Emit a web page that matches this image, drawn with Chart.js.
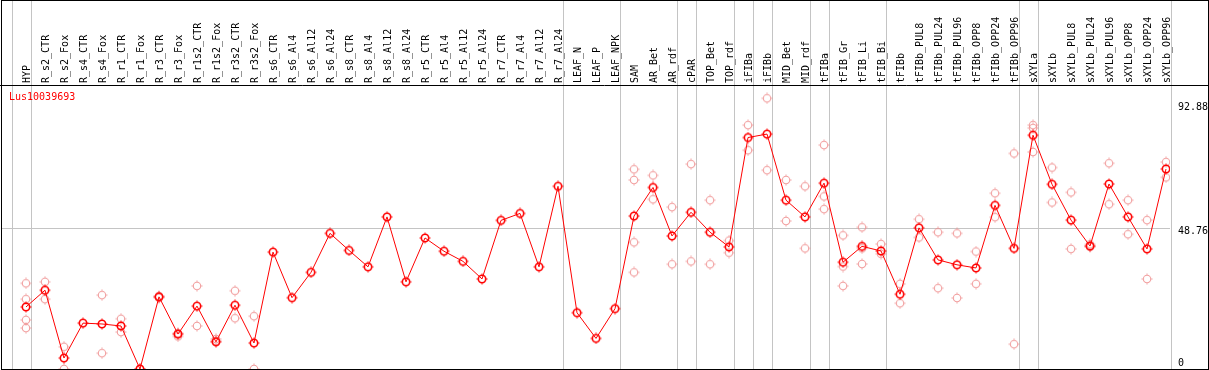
<!DOCTYPE html>
<html>
<head>
<meta charset="utf-8">
<script src="https://cdn.jsdelivr.net/npm/chart.js@4.4.1/dist/chart.umd.min.js"></script>
<style>
  html, body { margin: 0; padding: 0; background: #fff; }
  canvas { display: block; }
</style>
</head>
<body>
<canvas id="geneChart" width="1209" height="370"></canvas>
<script>
const geneName = 'Lus10039693';

const sampleLabels = [
  'HYP',
  'R_s2_CTR', 'R_s2_Fox', 'R_s4_CTR', 'R_s4_Fox', 'R_r1_CTR', 'R_r1_Fox', 'R_r3_CTR', 'R_r3_Fox',
  'R_r1s2_CTR', 'R_r1s2_Fox', 'R_r3s2_CTR', 'R_r3s2_Fox',
  'R_s6_CTR', 'R_s6_Al4', 'R_s6_Al12', 'R_s6_Al24', 'R_s8_CTR', 'R_s8_Al4', 'R_s8_Al12', 'R_s8_Al24',
  'R_r5_CTR', 'R_r5_Al4', 'R_r5_Al12', 'R_r5_Al24', 'R_r7_CTR', 'R_r7_Al4', 'R_r7_Al12', 'R_r7_Al24',
  'LEAF_N', 'LEAF_P', 'LEAF_NPK',
  'SAM', 'AR_Bet', 'AR_rdf', 'cPAR', 'TOP_Bet', 'TOP_rdf', 'iFIBa', 'iFIBb', 'MID_Bet', 'MID_rdf',
  'tFIBa', 'tFIB_Gr', 'tFIB_Li', 'tFIB_Bi',
  'tFIBb', 'tFIBb_PUL8', 'tFIBb_PUL24', 'tFIBb_PUL96', 'tFIBb_OPP8', 'tFIBb_OPP24', 'tFIBb_OPP96',
  'sXYLa', 'sXYLb', 'sXYLb_PUL8', 'sXYLb_PUL24', 'sXYLb_PUL96', 'sXYLb_OPP8', 'sXYLb_OPP24', 'sXYLb_OPP96'
];

// mean expression per sample (red line)
const meanValues = [
  21.5, 27.3, 3.8, 15.9, 15.6, 14.9, 0, 25.0, 12.1, 21.8, 9.4, 22.1, 9.0,
  40.5, 24.7, 33.5, 47.0, 41.1, 35.4, 52.7, 30.2,
  45.4, 40.8, 37.3, 31.2, 51.5, 53.9, 35.4, 63.3,
  19.5, 10.6, 20.9,
  53.0, 62.9, 46.1, 54.3, 47.4, 42.3, 80.2, 81.4, 58.5, 52.7,
  64.4, 37.0, 42.5, 40.9,
  25.9, 48.9, 37.8, 36.1, 35.0, 56.7, 41.8,
  81.0, 64.0, 51.6, 42.6, 64.1, 52.7, 41.6, 69.3
];

// single replicates (pink circles)
const replicateValues = [
  [29.7, 24.2, 17.0, 14.2], [30.2, 24.2], [7.7, 0], [], [25.6, 5.5], [17.4, 12.8], [0],
  [25.3, 24.7], [11.3, 12.4], [28.8, 14.9], [10.4, 9.7], [27.1, 17.6], [18.3, 0],
  [], [], [], [], [], [], [], [],
  [], [], [], [], [], [], [], [],
  [], [], [],
  [69.2, 65.5, 43.9, 33.5], [67.1, 58.8], [56.1, 36.3], [71.0, 37.3], [58.5, 36.3], [44.5, 40.3],
  [84.5, 75.8], [93.8, 68.9], [65.5, 51.3], [63.3, 41.8],
  [77.6, 59.8, 55.4], [46.3, 35.5, 28.8], [49.1, 41.8, 36.4], [43.3, 39.9],
  [29.5, 22.8], [51.9, 45.6], [47.4, 28.0], [47.0, 24.6], [40.7, 29.5], [60.9, 52.6], [74.7, 8.6],
  [84.5, 83.5, 75.2], [69.8, 57.7], [61.2, 41.6], [43.2, 42.3], [71.3, 57.1], [58.5, 46.7],
  [51.6, 31.2], [71.7, 66.4]
];

const yTickValues = [0, 48.76, 92.88];
const yMax = 98.4;

// last sample index of each tissue group (vertical separators)
const groupEnds = [-1, 0, 28, 31, 34, 35, 37, 38, 39, 41, 42, 45, 52, 53, 60];

const monoFont = 'DejaVu Sans Mono';

function makeMarker(color, width) {
  const c = document.createElement('canvas');
  c.width = 12;
  c.height = 12;
  const g = c.getContext('2d');
  g.strokeStyle = color;
  g.lineWidth = width;
  g.beginPath();
  g.arc(6, 6, 3.7, 0, Math.PI * 2);
  g.stroke();
  g.lineWidth = 1;
  g.beginPath();
  g.moveTo(6, 0.5); g.lineTo(6, 1.8);
  g.moveTo(6, 10.2); g.lineTo(6, 11.5);
  g.moveTo(0.5, 6); g.lineTo(1.8, 6);
  g.moveTo(10.2, 6); g.lineTo(11.5, 6);
  g.stroke();
  return c;
}

const meanMarker = makeMarker('#ff0000', 1.6);
const repMarker = makeMarker('rgba(238,140,140,0.85)', 1.1);

const meanPoints = meanValues.map((v, i) => ({ x: i, y: v }));
const repPoints = [];
replicateValues.forEach((reps, i) => {
  reps.forEach(v => repPoints.push({ x: i, y: v }));
});

const decorPlugin = {
  id: 'decor',
  beforeDatasetsDraw(chart) {
    const ctx = chart.ctx;
    const x = chart.scales.x;
    ctx.save();
    ctx.strokeStyle = '#c4c4c4';
    ctx.lineWidth = 1;
    groupEnds.forEach(i => {
      const px = Math.round(x.getPixelForValue(i + 0.24)) + 0.5;
      ctx.beginPath();
      ctx.moveTo(px, 0);
      ctx.lineTo(px, chart.height);
      ctx.stroke();
    });
    ctx.restore();
  },
  afterDraw(chart) {
    const ctx = chart.ctx;
    const area = chart.chartArea;
    ctx.save();
    ctx.strokeStyle = '#000';
    ctx.lineWidth = 1;
    ctx.strokeRect(1.5, 0.5, chart.width - 2, chart.height - 1);
    ctx.beginPath();
    ctx.moveTo(0, area.top + 0.5);
    ctx.lineTo(chart.width, area.top + 0.5);
    ctx.stroke();
    ctx.fillStyle = '#ff0000';
    ctx.font = '10px "' + monoFont + '"';
    ctx.textBaseline = 'alphabetic';
    ctx.fillText(geneName, 9, area.top + 15);
    ctx.restore();
  }
};

const ctx = document.getElementById('geneChart').getContext('2d');
const geneChart = new Chart(ctx, {
  data: {
    datasets: [{
      type: 'line',
      label: 'mean',
      data: meanPoints,
      borderColor: '#ff0000',
      borderWidth: 1,
      pointStyle: meanMarker,
      pointRadius: 5,
      tension: 0,
      fill: false
    }, {
      type: 'scatter',
      label: 'replicates',
      data: repPoints,
      pointStyle: repMarker,
      pointRadius: 5
    }]
  },
  options: {
    responsive: false,
    animation: false,
    devicePixelRatio: 1,
    layout: { autoPadding: false, padding: { left: 2, right: 0, top: 0, bottom: 1 } },
    plugins: {
      legend: { display: false },
      tooltip: { enabled: false }
    },
    scales: {
      x: {
        type: 'linear',
        position: 'top',
        min: -1.263,
        max: 60.21,
        afterBuildTicks: scale => {
          scale.ticks = sampleLabels.map((_, i) => ({ value: i }));
        },
        afterFit: scale => {
          scale.height = 85;
          scale.paddingLeft = 0;
          scale.paddingRight = 0;
        },
        ticks: {
          autoSkip: false,
          minRotation: 90,
          maxRotation: 90,
          padding: 2,
          labelOffset: 13,
          color: '#000',
          font: { family: monoFont, size: 10 },
          callback: value => sampleLabels[value]
        },
        grid: { display: false, drawTicks: false },
        border: { display: false }
      },
      y: {
        type: 'linear',
        position: 'right',
        min: 0,
        max: yMax,
        afterBuildTicks: scale => {
          scale.ticks = yTickValues.map(v => ({ value: v }));
        },
        afterFit: scale => {
          scale.width = 39;
          scale.paddingTop = 0;
          scale.paddingBottom = 0;
        },
        ticks: {
          padding: 8,
          color: '#000',
          font: ctx => ({
            family: monoFont,
            size: 10,
            lineHeight: ctx.tick && ctx.tick.value === 48.76 ? 0.6 : 1.2
          }),
          callback: value => value === 0 ? ['0', ''] : ['', String(value)]
        },
        grid: {
          drawTicks: false,
          color: ctx => ctx.tick && ctx.tick.value === 48.76 ? '#c4c4c4' : 'rgba(0,0,0,0)'
        },
        border: { display: false }
      }
    }
  },
  plugins: [decorPlugin]
});
</script>
</body>
</html>
